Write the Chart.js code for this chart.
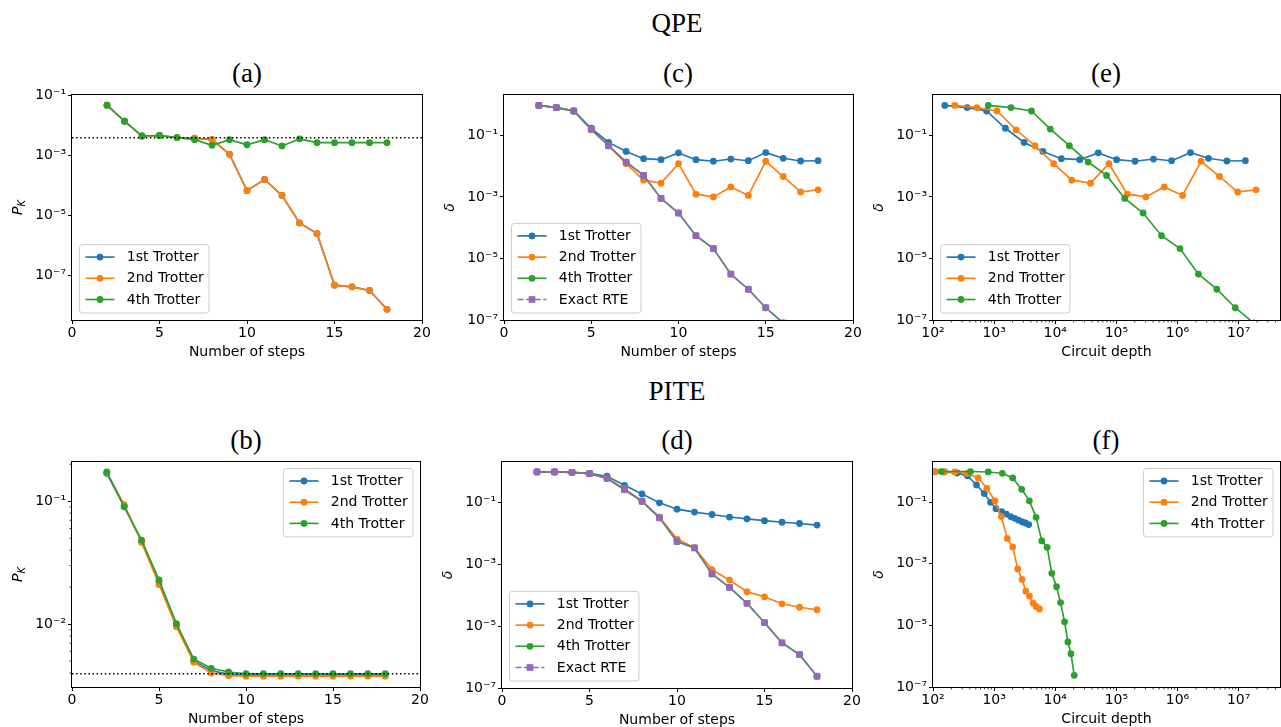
<!DOCTYPE html>
<html>
<head>
<meta charset="utf-8">
<script src="https://cdn.jsdelivr.net/npm/chart.js@4.4.1/dist/chart.umd.min.js"></script>
<style>
  html, body { margin: 0; padding: 0; background: #fff; }
  body { width: 1281px; height: 727px; position: relative; overflow: hidden; }
  .head {
    position: absolute; transform: translate(-50%, -50%);
    font-family: "Liberation Serif", "Times New Roman", serif; font-size: 27px;
    line-height: 27px; color: #000; white-space: nowrap;
  }
</style>
</head>
<body>
<div class="head" style="left:677px; top:23px">QPE</div>
<div class="head" style="left:677px; top:391px">PITE</div>
<div class="head" style="left:247px; top:73px">(a)</div>
<div class="head" style="left:678px; top:73px">(c)</div>
<div class="head" style="left:1106px; top:73px">(e)</div>
<div class="head" style="left:246px; top:440px">(b)</div>
<div class="head" style="left:677px; top:440px">(d)</div>
<div class="head" style="left:1106px; top:440px">(f)</div>

<script>
// ---- data ----
const steps = [2, 3, 4, 5, 6, 7, 8, 9, 10, 11, 12, 13, 14, 15, 16, 17, 18];
const refSpan = [0, 20];
const pkRefQpe = 0.00395;
const pkRefPite = 0.00395;

// (a) QPE, P_K vs steps
const pkQpe1st = [0.048, 0.014, 0.0045, 0.0047, 0.0040, 0.0038, 0.0034, 0.0011, 6.8e-5, 1.6e-4, 4.7e-5, 5.7e-6, 2.5e-6, 4.8e-8, 4.2e-8, 3.2e-8, 7.5e-9];
const pkQpe2nd = [0.048, 0.014, 0.0045, 0.0047, 0.0040, 0.0038, 0.0034, 0.0011, 6.8e-5, 1.6e-4, 4.7e-5, 5.7e-6, 2.5e-6, 4.8e-8, 4.2e-8, 3.2e-8, 7.5e-9];
const pkQpe4th = [0.048, 0.014, 0.0045, 0.0047, 0.0040, 0.0034, 0.0022, 0.0034, 0.0023, 0.0034, 0.0021, 0.0036, 0.0027, 0.0027, 0.0027, 0.0027, 0.0027];

// (c) QPE, delta vs steps  (also y values of (e))
const deltaQpe1st = [0.94, 0.80, 0.62, 0.17, 0.059, 0.030, 0.0175, 0.0162, 0.027, 0.0162, 0.0144, 0.017, 0.015, 0.0275, 0.018, 0.0147, 0.015];
const deltaQpe2nd = [0.94, 0.80, 0.62, 0.15, 0.046, 0.012, 0.0035, 0.0028, 0.012, 0.00123, 0.0010, 0.0021, 0.00112, 0.0144, 0.0046, 0.00145, 0.0017];
const deltaQpe4th = [0.94, 0.80, 0.62, 0.16, 0.046, 0.0136, 0.0050, 8.9e-4, 3.0e-4, 5.5e-5, 2.1e-5, 3.1e-6, 1.0e-6, 2.5e-7, 8e-8, 2.5e-8, 8e-9];
const deltaQpeExact = [0.94, 0.80, 0.62, 0.16, 0.046, 0.0136, 0.0050, 8.9e-4, 3.0e-4, 5.5e-5, 2.1e-5, 3.1e-6, 1.0e-6, 2.5e-7, 8e-8, 2.5e-8, 8e-9];

// (e) QPE, circuit depth per point
const depthQpe1st = [156, 362, 753, 1528, 3097, 6283, 12580, 25190, 50470, 101000, 202000, 405000, 801000, 1630000, 3210000, 6430000, 12900000];
const depthQpe2nd = [227, 522, 1114, 2290, 4645, 9420, 18620, 37760, 75560, 151000, 303000, 606000, 1210000, 2430000, 4870000, 9640000, 19300000];
const depthQpe4th = [803, 1893, 4089, 8300, 17030, 34530, 69130, 137000, 274000, 548000, 1100000, 2200000, 4400000, 8810000, 17600000, 35000000, 70000000];

// (b) PITE, P_K vs steps
const pkPite1st = [0.168, 0.091, 0.047, 0.022, 0.0098, 0.0050, 0.0042, 0.0039, 0.00386, 0.00386, 0.00386, 0.00386, 0.00386, 0.00386, 0.00386, 0.00386, 0.00386];
const pkPite2nd = [0.170, 0.094, 0.0462, 0.0210, 0.0095, 0.0049, 0.0040, 0.00381, 0.00377, 0.00377, 0.00377, 0.00377, 0.00377, 0.00377, 0.00377, 0.00377, 0.00377];
const pkPite4th = [0.173, 0.090, 0.0483, 0.0229, 0.0101, 0.0052, 0.00437, 0.00408, 0.00395, 0.00395, 0.00395, 0.00395, 0.00395, 0.00395, 0.00395, 0.00395, 0.00395];

// (d) PITE, delta vs steps  (also y values of (f))
const deltaPite1st = [0.98, 0.98, 0.95, 0.88, 0.71, 0.36, 0.19, 0.098, 0.061, 0.049, 0.041, 0.034, 0.0297, 0.026, 0.023, 0.021, 0.0186];
const deltaPite2nd = [0.98, 0.98, 0.95, 0.86, 0.61, 0.28, 0.11, 0.034, 0.0066, 0.0035, 6.8e-4, 3.1e-4, 1.3e-4, 8.9e-5, 5.3e-5, 4.1e-5, 3.4e-5];
const deltaPite4th = [0.98, 0.98, 0.95, 0.86, 0.61, 0.26, 0.11, 0.032, 0.0055, 0.0034, 4.9e-4, 1.8e-4, 5.5e-5, 1.3e-5, 2.9e-6, 1.2e-6, 2.4e-7];
const deltaPiteExact = [0.98, 0.98, 0.95, 0.86, 0.61, 0.26, 0.11, 0.032, 0.0055, 0.0034, 4.9e-4, 1.8e-4, 5.5e-5, 1.3e-5, 2.9e-6, 1.2e-6, 2.4e-7];

// (f) PITE, circuit depth per point
const depthPite1st = [75, 106, 152, 248, 366, 515, 689, 875, 1072, 1327, 1581, 1862, 2168, 2490, 2862, 3245, 3681];
const depthPite2nd = [111, 156, 227, 362, 548, 762, 1031, 1310, 1643, 2011, 2432, 2865, 3290, 3778, 4338, 4862, 5515];
const depthPite4th = [137, 410, 801, 1361, 2010, 2825, 3776, 4860, 6026, 7370, 8790, 10490, 12210, 14200, 16100, 18040, 20460];

// tick labels
const stepTicks = [0, 5, 10, 15, 20];
const oddDecadeTicks = [1e-7, 1e-5, 1e-3, 1e-1];
const pkPiteTicks = [1e-2, 1e-1];
const depthTicks = [1e2, 1e3, 1e4, 1e5, 1e6, 1e7];

// ---- styling ----
const FONT = '"DejaVu Sans", "Liberation Sans", sans-serif';
const C1 = '#1f77b4', C2 = '#ff7f0e', C4 = '#2ca02c', CEX = '#9467bd';
const Y_AXIS_W = 66, X_AXIS_H = 44, PAD_TOP = 12, PAD_RIGHT = 16;

const SUP = { '-': '\u207b', '0': '\u2070', '1': '\u00b9', '2': '\u00b2', '3': '\u00b3', '4': '\u2074',
              '5': '\u2075', '6': '\u2076', '7': '\u2077', '8': '\u2078', '9': '\u2079' };
function powLabel(v) {
  const e = Math.round(Math.log10(v));
  return '10' + String(e).split('').map(c => SUP[c]).join('');
}

function line(label, xs, ys, color, exact) {
  const ds = {
    label, data: xs.map((x, i) => ({ x, y: ys[i] })),
    borderColor: color, backgroundColor: color, pointBackgroundColor: color, pointBorderColor: color,
    borderWidth: 1.65, pointRadius: 3.4, pointBorderWidth: 0, pointStyle: 'circle', tension: 0, fill: false
  };
  if (exact) { ds.pointStyle = 'rect'; ds.pointRadius = 4.7; ds.borderDash = [6, 2.6]; }
  return ds;
}
function refLine(level) {
  return { label: '', data: refSpan.map(x => ({ x, y: level })), borderColor: '#000', borderWidth: 1.5,
           borderDash: [1.5, 2.6], pointRadius: 0, fill: false };
}

function minorValues(min, max) {
  const out = [];
  for (let e = Math.floor(Math.log10(min)); e <= Math.ceil(Math.log10(max)); e++)
    for (let m = 2; m <= 9; m++) { const v = m * Math.pow(10, e); if (v > min && v < max) out.push(v); }
  return out;
}

const panels = [
  { box: { left: 72, top: 95, w: 350, h: 225 }, xLog: false, xMin: 0, xMax: 20, xTicks: stepTicks, xTitle: 'Number of steps',
    yMin: 3.3e-9, yMax: 0.105, yTicks: oddDecadeTicks, yTitle: 'PK', legend: 'lower left',
    datasets: [line('1st Trotter', steps, pkQpe1st, C1), line('2nd Trotter', steps, pkQpe2nd, C2),
               line('4th Trotter', steps, pkQpe4th, C4), refLine(pkRefQpe)] },
  { box: { left: 504, top: 95, w: 349, h: 225 }, xLog: false, xMin: 0, xMax: 20, xTicks: stepTicks, xTitle: 'Number of steps',
    yMin: 1e-7, yMax: 2.05, yTicks: oddDecadeTicks, yTitle: 'delta', legend: 'lower left',
    datasets: [line('1st Trotter', steps, deltaQpe1st, C1), line('2nd Trotter', steps, deltaQpe2nd, C2),
               line('4th Trotter', steps, deltaQpe4th, C4), line('Exact RTE', steps, deltaQpeExact, CEX, true)] },
  { box: { left: 933, top: 95, w: 347, h: 225 }, xLog: true, xMin: 100, xMax: 4.75e7, xTicks: depthTicks, xTitle: 'Circuit depth',
    yMin: 1e-7, yMax: 2.05, yTicks: oddDecadeTicks, yTitle: 'delta', legend: 'lower left',
    datasets: [line('1st Trotter', depthQpe1st, deltaQpe1st, C1), line('2nd Trotter', depthQpe2nd, deltaQpe2nd, C2),
               line('4th Trotter', depthQpe4th, deltaQpe4th, C4)] },
  { box: { left: 72, top: 462, w: 348, h: 225 }, xLog: false, xMin: 0, xMax: 20, xTicks: stepTicks, xTitle: 'Number of steps',
    yMin: 0.00308, yMax: 0.2085, yTicks: pkPiteTicks, yMinor: true, yTitle: 'PK', legend: 'upper right',
    datasets: [line('1st Trotter', steps, pkPite1st, C1), line('2nd Trotter', steps, pkPite2nd, C2),
               line('4th Trotter', steps, pkPite4th, C4), refLine(pkRefPite)] },
  { box: { left: 502, top: 462, w: 350, h: 226 }, xLog: false, xMin: 0, xMax: 20, xTicks: stepTicks, xTitle: 'Number of steps',
    yMin: 1e-7, yMax: 2.05, yTicks: oddDecadeTicks, yTitle: 'delta', legend: 'lower left',
    datasets: [line('1st Trotter', steps, deltaPite1st, C1), line('2nd Trotter', steps, deltaPite2nd, C2),
               line('4th Trotter', steps, deltaPite4th, C4), line('Exact RTE', steps, deltaPiteExact, CEX, true)] },
  { box: { left: 933, top: 462, w: 347, h: 225 }, xLog: true, xMin: 100, xMax: 4.75e7, xTicks: depthTicks, xTitle: 'Circuit depth',
    yMin: 1e-7, yMax: 2.0, yTicks: oddDecadeTicks, yTitle: 'delta', legend: 'upper right',
    datasets: [line('1st Trotter', depthPite1st, deltaPite1st, C1), line('2nd Trotter', depthPite2nd, deltaPite2nd, C2),
               line('4th Trotter', depthPite4th, deltaPite4th, C4)] }
];

// matplotlib-like legend box
function drawLegend(chart, where) {
  const ctx = chart.ctx, a = chart.chartArea;
  const items = chart.data.datasets.filter(d => d.label);
  ctx.font = '14px ' + FONT;
  const tw = Math.max(...items.map(d => ctx.measureText(d.label).width));
  const pitch = 21.2, w = 52.5 + tw, h = 12.5 + pitch * (items.length - 1) + 13.5;
  let x0, y0;
  if (where === 'lower left') { x0 = a.left + 7.5; y0 = a.bottom - 7 - h; }
  else { x0 = a.right - 7 - w; y0 = a.top + 6.5; }
  const r = 3;
  ctx.beginPath();
  ctx.moveTo(x0 + r, y0);
  ctx.arcTo(x0 + w, y0, x0 + w, y0 + h, r);
  ctx.arcTo(x0 + w, y0 + h, x0, y0 + h, r);
  ctx.arcTo(x0, y0 + h, x0, y0, r);
  ctx.arcTo(x0, y0, x0 + w, y0, r);
  ctx.closePath();
  ctx.fillStyle = 'rgba(255,255,255,0.8)';
  ctx.fill();
  ctx.strokeStyle = '#cccccc'; ctx.lineWidth = 1; ctx.setLineDash([]);
  ctx.stroke();
  items.forEach((d, i) => {
    const cy = y0 + 12.5 + i * pitch;
    ctx.strokeStyle = d.borderColor; ctx.lineWidth = d.borderWidth;
    ctx.setLineDash(d.borderDash || []);
    ctx.beginPath(); ctx.moveTo(x0 + 6, cy); ctx.lineTo(x0 + 35, cy); ctx.stroke();
    ctx.setLineDash([]);
    ctx.fillStyle = d.pointBackgroundColor;
    ctx.beginPath();
    if (d.pointStyle === 'rect') ctx.rect(x0 + 20.5 - 3.35, cy - 3.35, 6.7, 6.7);
    else ctx.arc(x0 + 20.5, cy, 3.4, 0, Math.PI * 2);
    ctx.fill();
    ctx.fillStyle = '#000'; ctx.textBaseline = 'middle'; ctx.textAlign = 'left';
    ctx.fillText(d.label, x0 + 47.3, cy + 0.5);
  });
}

function decor(cfg) {
  return {
    id: 'mplDecor',
    afterDraw(chart) {
      const ctx = chart.ctx, a = chart.chartArea;
      ctx.save();
      ctx.strokeStyle = '#000'; ctx.lineWidth = 0.8; ctx.setLineDash([]);
      if (cfg.xLog) {
        minorValues(cfg.xMin, cfg.xMax).forEach(v => {
          const px = chart.scales.x.getPixelForValue(v);
          ctx.beginPath(); ctx.moveTo(px, a.bottom); ctx.lineTo(px, a.bottom + 2.4); ctx.stroke();
        });
      }
      if (cfg.yMinor) {
        minorValues(cfg.yMin, cfg.yMax).forEach(v => {
          const py = chart.scales.y.getPixelForValue(v);
          ctx.beginPath(); ctx.moveTo(a.left, py); ctx.lineTo(a.left - 2.4, py); ctx.stroke();
        });
      }
      // spines
      ctx.lineWidth = 1;
      ctx.strokeRect(Math.round(a.left) - 0.5, Math.round(a.top) - 0.5,
                     Math.round(a.right - a.left) + 1, Math.round(a.bottom - a.top) + 1);
      // P_K label
      if (cfg.yTitle === 'PK') {
        ctx.translate(a.left - 53.5, (a.top + a.bottom) / 2);
        ctx.rotate(-Math.PI / 2);
        ctx.fillStyle = '#000'; ctx.textBaseline = 'middle'; ctx.textAlign = 'left';
        ctx.font = 'italic 14px ' + FONT;
        const wp = ctx.measureText('P').width;
        ctx.font = 'italic 10px ' + FONT;
        const wk = ctx.measureText('K').width;
        const x0 = -(wp + wk) / 2;
        ctx.font = 'italic 14px ' + FONT;
        ctx.fillText('P', x0, 0);
        ctx.font = 'italic 10px ' + FONT;
        ctx.fillText('K', x0 + wp, 4);
        ctx.setTransform(1, 0, 0, 1, 0, 0);
      }
      drawLegend(chart, cfg.legend);
      ctx.restore();
    }
  };
}

panels.forEach(cfg => {
  const c = document.createElement('canvas');
  const W = Y_AXIS_W + cfg.box.w + PAD_RIGHT, H = PAD_TOP + cfg.box.h + X_AXIS_H;
  c.width = W; c.height = H;
  c.style.cssText = 'position:absolute;left:' + (cfg.box.left - Y_AXIS_W) + 'px;top:' + (cfg.box.top - PAD_TOP) + 'px;';
  document.body.appendChild(c);

  cfg.datasets.forEach((d, i) => { d.order = -i; });

  const tickFont = { family: FONT, size: 14 };
  new Chart(c, {
    type: 'line',
    data: { datasets: cfg.datasets },
    options: {
      responsive: false, animation: false, events: [],
      layout: { padding: { top: PAD_TOP, right: PAD_RIGHT, left: 0, bottom: 0 } },
      plugins: { legend: { display: false }, tooltip: { enabled: false } },
      scales: {
        x: {
          type: cfg.xLog ? 'logarithmic' : 'linear', position: 'bottom', min: cfg.xMin, max: cfg.xMax,
          afterFit: s => { s.height = X_AXIS_H; },
          afterBuildTicks: s => { s.ticks = cfg.xTicks.map(v => ({ value: v })); },
          border: { display: false },
          grid: { drawOnChartArea: false, drawTicks: true, tickLength: 4, tickWidth: 1, tickColor: '#000' },
          ticks: { autoSkip: false, maxRotation: 0, padding: 1, color: '#000', font: tickFont,
                   callback: v => cfg.xLog ? powLabel(v) : String(v) },
          title: { display: true, text: cfg.xTitle, color: '#000', font: tickFont, padding: { top: 0, bottom: 3 } }
        },
        y: {
          type: 'logarithmic', position: 'left', min: cfg.yMin, max: cfg.yMax,
          afterFit: s => { s.width = Y_AXIS_W; },
          afterBuildTicks: s => { s.ticks = cfg.yTicks.map(v => ({ value: v })); },
          border: { display: false },
          grid: { drawOnChartArea: false, drawTicks: true, tickLength: 4, tickWidth: 1, tickColor: '#000' },
          ticks: { autoSkip: false, padding: 2, color: '#000', font: tickFont, callback: v => powLabel(v) },
          title: cfg.yTitle === 'delta'
            ? { display: true, text: 'δ', color: '#000', font: { family: FONT, size: 14, style: 'italic' }, padding: { top: 4, bottom: 0 } }
            : { display: false }
        }
      }
    },
    plugins: [decor(cfg)]
  });
});
</script>
</body>
</html>
